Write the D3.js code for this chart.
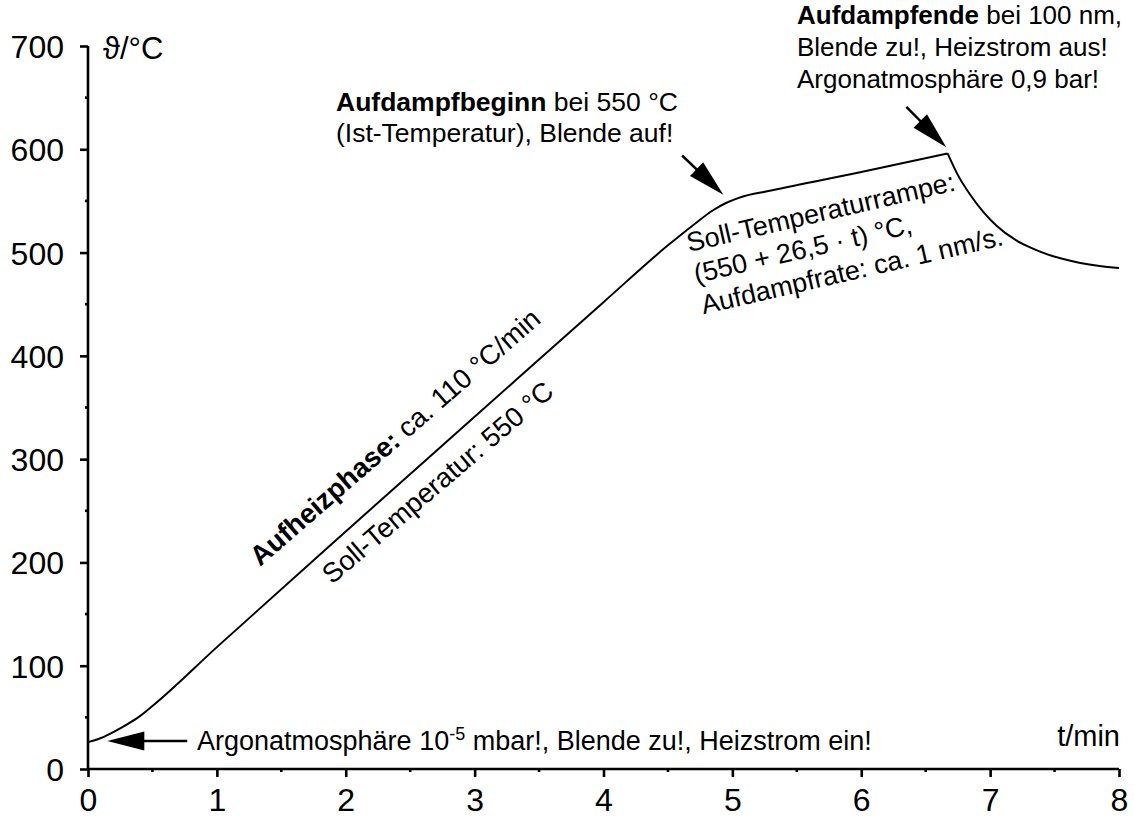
<!DOCTYPE html>
<html>
<head>
<meta charset="utf-8">
<script src="https://cdn.jsdelivr.net/npm/d3@7"></script>
<style>
  body { margin: 0; background: #fff; }
  svg { font-family: "Liberation Sans", Arial, sans-serif; }
  .axis path, .axis line { stroke: #000; stroke-width: 2.6; }
  .axis text { font-size: 32px; fill: #000; }
  .note { font-size: 26.5px; fill: #000; }
</style>
</head>
<body>
<div id="chart"></div>
<script>
// Heating phase + evaporation ramp (t in min, temperature in °C)
var heatT = [0, 0.1, 0.2, 0.3, 0.4, 0.5, 1, 2, 3, 4, 4.5, 4.7, 4.85, 4.95, 5.05, 5.3, 6, 6.67];
var heatV = [26, 30, 36, 43, 51, 61, 118, 230, 341, 452, 507, 527, 541, 548, 553, 560, 578, 596];

// Cooling after heater switched off
var coolT = [6.67, 6.75, 6.84, 6.95, 7.05, 7.2, 7.31, 7.45, 7.56, 7.7, 7.85, 8];
var coolV = [596, 575, 557, 539, 526, 512, 505, 498, 494, 490, 487, 485];

var xTickVals = [0, 1, 2, 3, 4, 5, 6, 7, 8];
var yTickVals = [0, 100, 200, 300, 400, 500, 600, 700];

// Annotation arrows: tail and tip in data coordinates
var arrowTail = [[0.77, 27], [4.61, 594], [6.35, 641]];
var arrowTip = [[0.15, 27], [4.93, 556], [6.66, 602]];

/* ---------- SVG setup ---------- */
var svgWidth = 1134;
var svgHeight = 817;
var chartMarg = { top: 46, right: 15, bottom: 48, left: 88 };
var chartWidth = svgWidth - chartMarg.left - chartMarg.right;
var chartHeight = svgHeight - chartMarg.top - chartMarg.bottom;

var svg = d3.select("#chart")
    .append("svg")
    .attr("width", svgWidth)
    .attr("height", svgHeight);

var chartGroup = svg.append("g")
    .attr("transform", `translate(${chartMarg.left}, ${chartMarg.top})`);

var xScale = d3.scaleLinear().domain([0, 8]).range([0, chartWidth]);
var yScale = d3.scaleLinear().domain([0, 700]).range([chartHeight, 0]);

/* ---------- axes ---------- */
var leftAxis = d3.axisLeft(yScale).tickValues(yTickVals).tickSize(8).tickPadding(16).tickSizeOuter(0);
var bottomAxis = d3.axisBottom(xScale).tickValues(xTickVals).tickSize(8).tickPadding(7).tickSizeOuter(0);

// minor ticks
var yMinor = yTickVals.slice(0, -1).map(d => d + 50);
var xMinor = xTickVals.slice(0, -1).map(d => d + 0.5);

var yAx = chartGroup.append("g").attr("class", "axis").call(leftAxis);
yAx.selectAll(".tick text").attr("dy", "0.36em");
yAx.selectAll(".minor").data(yMinor).enter().append("line")
    .attr("class", "minor")
    .attr("x1", -3).attr("x2", 0)
    .attr("y1", d => yScale(d)).attr("y2", d => yScale(d));

var xAx = chartGroup.append("g")
    .attr("class", "axis")
    .attr("transform", `translate(0, ${chartHeight})`)
    .call(bottomAxis);
xAx.selectAll(".tick text").attr("dy", "0.85em");
xAx.selectAll(".minor").data(xMinor).enter().append("line")
    .attr("class", "minor")
    .attr("y1", 0).attr("y2", 3)
    .attr("x1", d => xScale(d)).attr("x2", d => xScale(d));
xAx.select(".domain").attr("d", `M0,0H${chartWidth}`);
yAx.select(".domain").attr("d", `M0,0V${chartHeight}`);

/* ---------- curve ---------- */
var line = d3.line()
    .x(d => xScale(d[0]))
    .y(d => yScale(d[1]))
    .curve(d3.curveMonotoneX);

[[heatT, heatV], [coolT, coolV]].forEach(function(s) {
    chartGroup.append("path")
        .datum(s[0].map((t, i) => [t, s[1][i]]))
        .attr("d", line)
        .attr("fill", "none")
        .attr("stroke", "#000")
        .attr("stroke-width", 2);
});

/* ---------- arrows ---------- */
arrowTail.forEach(function(tail, i) {
    var x1 = xScale(tail[0]), y1 = yScale(tail[1]);
    var x2 = xScale(arrowTip[i][0]), y2 = yScale(arrowTip[i][1]);
    var ang = Math.atan2(y2 - y1, x2 - x1) * 180 / Math.PI;
    var len = Math.hypot(x2 - x1, y2 - y1);
    var g = chartGroup.append("g")
        .attr("transform", `translate(${x2}, ${y2}) rotate(${ang})`);
    g.append("line")
        .attr("x1", -len).attr("x2", -30)
        .attr("stroke", "#000").attr("stroke-width", 2.5);
    g.append("path")
        .attr("d", "M0,0L-37,-9.5L-37,9.5Z")
        .attr("fill", "#000");
});

/* ---------- texts ---------- */
svg.append("text").attr("class", "note")
    .attr("x", 103).attr("y", 59)
    .style("font-size", "31px")
    .text("\u03D1/°C");

svg.append("text").attr("class", "note")
    .attr("x", 1120).attr("y", 746)
    .attr("text-anchor", "end")
    .style("font-size", "29px")
    .text("t/min");

var bottomNote = svg.append("text").attr("class", "note")
    .attr("x", 197).attr("y", 750)
    .style("font-size", "27px");
bottomNote.append("tspan").text("Argonatmosphäre 10");
bottomNote.append("tspan").attr("dy", -10).style("font-size", "18px").text("-5");
bottomNote.append("tspan").attr("dy", 10).text(" mbar!, Blende zu!, Heizstrom ein!");

var begin = svg.append("text").attr("class", "note").attr("x", 336).attr("y", 111);
begin.append("tspan").style("font-weight", "bold").text("Aufdampfbeginn");
begin.append("tspan").text(" bei 550 °C");
svg.append("text").attr("class", "note").attr("x", 336).attr("y", 142)
    .text("(Ist-Temperatur), Blende auf!");

var end = svg.append("text").attr("class", "note").attr("x", 797).attr("y", 24)
    .style("font-size", "26px");
end.append("tspan").style("font-weight", "bold").text("Aufdampfende");
end.append("tspan").text(" bei 100 nm,");
svg.append("text").attr("class", "note").attr("x", 797).attr("y", 56)
    .style("font-size", "26px")
    .text("Blende zu!, Heizstrom aus!");
svg.append("text").attr("class", "note").attr("x", 797).attr("y", 88)
    .style("font-size", "26px")
    .text("Argonatmosphäre 0,9 bar!");

// rotated labels along the heating line
var heat1 = svg.append("text").attr("class", "note")
    .style("font-size", "27.5px")
    .attr("transform", "translate(260, 567) rotate(-41)");
heat1.append("tspan").style("font-weight", "bold").text("Aufheizphase:");
heat1.append("tspan").text(" ca. 110 °C/min");

svg.append("text").attr("class", "note")
    .style("font-size", "27.5px")
    .attr("transform", "translate(332, 585) rotate(-40.5)")
    .text("Soll-Temperatur: 550 °C");

// rotated block under the ramp
var ramp = svg.append("g").attr("transform", "translate(689, 252) rotate(-13)");
["Soll-Temperaturrampe:", "(550 + 26,5 · t) °C,", "Aufdampfrate: ca. 1 nm/s."].forEach(function(s, i) {
    ramp.append("text").attr("class", "note")
        .style("font-size", "27px")
        .attr("x", 0).attr("y", i * 32)
        .text(s);
});
</script>
</body>
</html>
